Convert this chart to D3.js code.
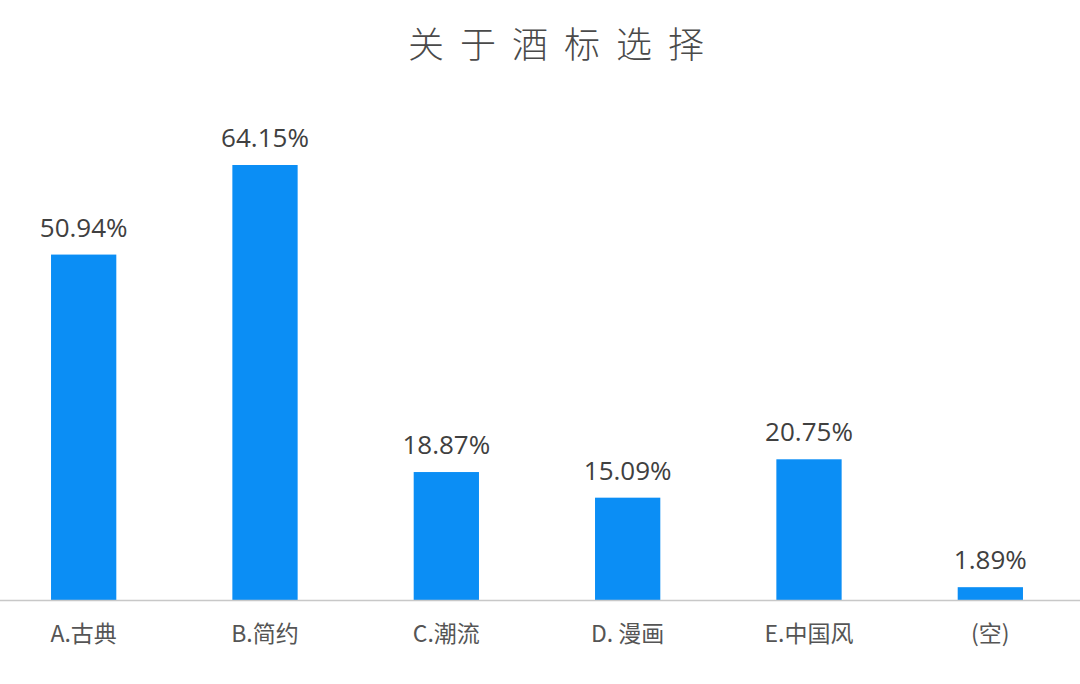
<!DOCTYPE html>
<html>
<head>
<meta charset="utf-8">
<script src="https://cdn.jsdelivr.net/npm/d3@7/dist/d3.min.js"></script>
<style>
  html, body { margin: 0; padding: 0; background: #ffffff; }
  svg { display: block; }
</style>
</head>
<body>
<div id="chart"></div>
<script>
const categories = ["A.古典", "B.简约", "C.潮流", "D. 漫画", "E.中国风", "(空)"];
const values = [50.94, 64.15, 18.87, 15.09, 20.75, 1.89];
const valueLabels = ["50.94%", "64.15%", "18.87%", "15.09%", "20.75%", "1.89%"];
const title = "关于酒标选择";

const W = 1080, H = 684;
const svg = d3.select("#chart").append("svg")
  .attr("width", W).attr("height", H);

const x = d3.scaleBand()
  .domain(categories)
  .range([-7, 1081])
  .paddingInner(0.64)
  .paddingOuter(0.32);

const y = d3.scaleLinear()
  .domain([0, 64.15])
  .range([600, 165]);

// title
svg.append("text")
  .attr("x", 556 + 8)
  .attr("y", 58)
  .attr("text-anchor", "middle")
  .style("font-family", "'Noto Sans CJK SC', sans-serif")
  .style("font-weight", 300)
  .style("font-size", "36px")
  .style("letter-spacing", "16px")
  .style("fill", "#4a4a4a")
  .text(title);

// bars
svg.append("g").selectAll("rect")
  .data(values)
  .join("rect")
  .attr("x", (d, i) => x(categories[i]))
  .attr("y", d => y(d))
  .attr("width", x.bandwidth())
  .attr("height", d => y(0) - y(d))
  .attr("fill", "#0b8ef5");

// value labels
svg.append("g").selectAll("text")
  .data(values)
  .join("text")
  .attr("x", (d, i) => x(categories[i]) + x.bandwidth() / 2)
  .attr("y", d => y(d) - 18)
  .attr("text-anchor", "middle")
  .style("font-family", "'Open Sans', 'Noto Sans', sans-serif")
  .style("font-size", "26px")
  .style("fill", "#404040")
  .text((d, i) => valueLabels[i]);

// x axis
const axis = svg.append("g")
  .attr("transform", `translate(0,${y(0)})`)
  .call(d3.axisBottom(x).tickSize(0).tickPadding(0));
axis.select(".domain").remove();
axis.append("line")
  .attr("x1", 0).attr("x2", W)
  .attr("y1", 0.5).attr("y2", 0.5)
  .attr("stroke", "#c8c8c8")
  .attr("stroke-width", 1.5);
axis.selectAll(".tick text")
  .attr("y", 42)
  .attr("dy", 0)
  .style("font-family", "'Noto Sans CJK SC', 'Open Sans', sans-serif")
  .style("font-size", "23px")
  .style("fill", "#555555");
</script>
</body>
</html>
